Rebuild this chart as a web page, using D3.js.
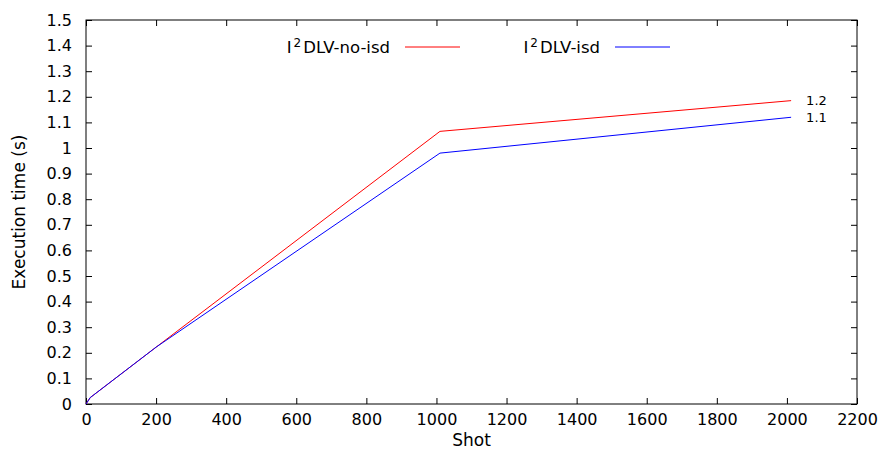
<!DOCTYPE html>
<html>
<head>
<meta charset="utf-8">
<script src="https://cdn.jsdelivr.net/npm/d3@7"></script>
<style>
	body { margin: 0; background: #fff; }
	svg { display: block; font-family: "DejaVu Sans", sans-serif; }
</style>
</head>
<body>
<script>
// data
const shots = [0, 12, 200, 1010, 2012];
const noIsd = [0, 0.025, 0.222, 1.065, 1.185];
const isd = [0, 0.025, 0.222, 0.98, 1.12];
const xTicks = d3.range(0, 2201, 200);
const yTicks = d3.range(0, 16).map(d => d / 10);

const width = 882, height = 454;
const margin = ({top: 20, right: 25, bottom: 50, left: 86});

const x = d3.scaleLinear()
	.domain([0, 2200])
	.range([margin.left, width - margin.right]);
const y = d3.scaleLinear()
	.domain([0, 1.5])
	.range([height - margin.bottom, margin.top]);

const svg = d3.select("body").append("svg")
	.attr("width", width)
	.attr("height", height);

const tick = 6;

// mirrored inward ticks
svg.append("g")
		.attr("transform", `translate(0,${y(0)})`)
		.call(d3.axisBottom(x).tickValues(xTicks).tickFormat(d3.format("d")).tickSize(-tick).tickPadding(10))
		.call(g => g.select(".domain").remove());
svg.append("g")
		.attr("transform", `translate(0,${y(1.5)})`)
		.call(d3.axisTop(x).tickValues(xTicks).tickFormat("").tickSize(-tick))
		.call(g => g.select(".domain").remove());
svg.append("g")
		.attr("transform", `translate(${x(0)},0)`)
		.call(d3.axisLeft(y).tickValues(yTicks).tickFormat(d => d3.format("")(d)).tickSize(-tick).tickPadding(14))
		.call(g => g.select(".domain").remove());
svg.append("g")
		.attr("transform", `translate(${x(2200)},0)`)
		.call(d3.axisRight(y).tickValues(yTicks).tickFormat("").tickSize(-tick))
		.call(g => g.select(".domain").remove());

svg.selectAll(".tick text")
	.attr("font-size", 16)
	.attr("font-family", "DejaVu Sans, sans-serif")
	.attr("fill", "#000");
svg.selectAll(".tick line").attr("stroke", "#000");

svg.append("rect")
	.attr("x", x(0))
	.attr("y", y(1.5))
	.attr("width", x(2200) - x(0))
	.attr("height", y(0) - y(1.5))
	.attr("fill", "none")
	.attr("stroke", "#000");

const line = vals => d3.line()
	.x((d, i) => x(shots[i]))
	.y(d => y(d))(vals);

svg.append("path")
	.attr("d", line(noIsd))
	.attr("fill", "none")
	.attr("stroke", "#ff0000");
svg.append("path")
	.attr("d", line(isd))
	.attr("fill", "none")
	.attr("stroke", "#0000ff");

// end labels
const last = shots.length - 1;
svg.append("g")
		.attr("font-size", 13)
	.selectAll("text")
	.data([noIsd[last], isd[last]])
	.join("text")
		.attr("x", x(shots[last]) + 15)
		.attr("y", d => y(d))
		.attr("dy", "0.35em")
		.text(d => d3.format(".1f")(d));

// legend
const legend = [
	{name: "DLV-no-isd", color: "#ff0000", end: 390},
	{name: "DLV-isd", color: "#0000ff", end: 600}
];
const lg = svg.append("g")
		.attr("font-size", 16.5)
	.selectAll("g")
	.data(legend)
	.join("g");
lg.append("text")
	.attr("x", d => d.end)
	.attr("y", 53)
	.attr("text-anchor", "end")
	.call(t => t.append("tspan").text("I"))
	.call(t => t.append("tspan").attr("font-size", 12).attr("dx", 2).attr("dy", -6).text("2"))
	.call(t => t.append("tspan").attr("dx", 2).attr("dy", 6).text(d => d.name));
lg.append("line")
	.attr("x1", d => d.end + 15)
	.attr("x2", d => d.end + 70)
	.attr("y1", 47)
	.attr("y2", 47)
	.attr("stroke", d => d.color);

// axis titles
svg.append("text")
	.attr("x", (x(0) + x(2200)) / 2)
	.attr("y", 446)
	.attr("text-anchor", "middle")
	.attr("font-size", 17)
	.text("Shot");
svg.append("text")
	.attr("transform", `translate(25,${(y(0) + y(1.5)) / 2}) rotate(-90)`)
	.attr("text-anchor", "middle")
	.attr("font-size", 17)
	.text("Execution time (s)");
</script>
</body>
</html>
